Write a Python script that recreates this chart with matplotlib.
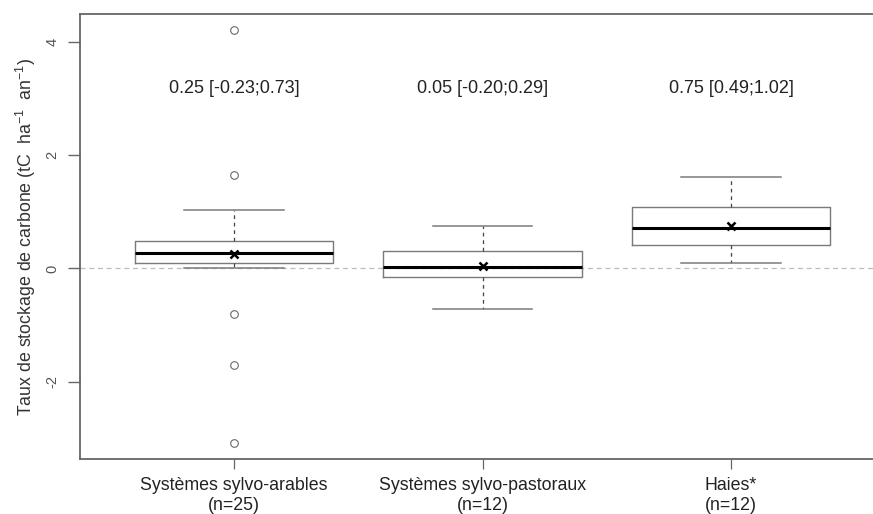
import matplotlib
matplotlib.use("Agg")
import matplotlib.pyplot as plt

plt.rcParams['font.family'] = ['Liberation Sans', 'DejaVu Sans']
plt.rcParams['mathtext.fontset'] = 'custom'
plt.rcParams['mathtext.rm'] = 'Liberation Sans'
plt.rcParams['mathtext.it'] = 'Liberation Sans'

# ---- data ----
categories = ["Systèmes sylvo-arables\n(n=25)",
              "Systèmes sylvo-pastoraux\n(n=12)",
              "Haies*\n(n=12)"]
q1 = [0.10, -0.16, 0.42]
medians = [0.28, 0.03, 0.72]
q3 = [0.48, 0.30, 1.08]
whisk_lo = [0.01, -0.72, 0.09]
whisk_hi = [1.035, 0.75, 1.61]
means = [0.25, 0.05, 0.75]
outliers = [[4.21, 1.66, -0.80, -1.71, -3.09], [], []]
annotations = ["0.25 [-0.23;0.73]", "0.05 [-0.20;0.29]", "0.75 [0.49;1.02]"]
annot_y = 3.19
yticks = [-2, 0, 2, 4]
ylabel = "Taux de stockage de carbone (tC  ha$^{-1}$  an$^{-1}$)"

positions = list(range(1, len(categories) + 1))
stats = []
for i in range(len(categories)):
    stats.append(dict(q1=q1[i], med=medians[i], q3=q3[i],
                      whislo=whisk_lo[i], whishi=whisk_hi[i],
                      mean=means[i], fliers=outliers[i], label=categories[i]))

fig = plt.figure(figsize=(8.73, 5.14), dpi=100)
ax = fig.add_axes([80/873, 55/514, 805/873, 445/514])

grey = '#7a7a7a'
ax.axhline(0, color='#bdbdbd', lw=0.9, ls=(0, (4, 3)), zorder=0)

ax.bxp(stats, positions=positions, widths=0.8, showmeans=True,
       patch_artist=False,
       boxprops=dict(color=grey, linewidth=1.0),
       whiskerprops=dict(color='#444444', linewidth=0.9, linestyle=(0, (3, 3))),
       capprops=dict(color=grey, linewidth=1.1),
       capwidths=0.4,
       medianprops=dict(color='black', linewidth=2.2),
       meanprops=dict(marker='x', markeredgecolor='black', markersize=6,
                      markeredgewidth=1.8),
       flierprops=dict(marker='o', markerfacecolor='none', markeredgecolor='#6a6a6a',
                       markersize=5.5, markeredgewidth=0.8))

for x, txt in zip(positions, annotations):
    ax.text(x, annot_y, txt, ha='center', va='center', fontsize=13, color='#222222')

ax.set_xlim(0.38, 3.62)
ax.set_ylim(-3.37, 4.50)
ax.set_yticks(yticks)
ax.set_yticklabels([str(t) for t in yticks], rotation=90, va='center',
                   fontsize=10.5, color='#555555')
ax.set_xticks(positions)
ax.set_xticklabels(categories, fontsize=12.8, color='#222222', linespacing=1.2)

ax.tick_params(axis='y', length=9, width=1.0, color='#666666', pad=6)
ax.tick_params(axis='x', length=7, width=0.9, color='#666666', pad=6)

for side in ['left', 'bottom', 'top']:
    ax.spines[side].set_color('#666666')
    ax.spines[side].set_linewidth(1.3)
ax.spines['right'].set_visible(False)

ax.set_ylabel(ylabel, fontsize=12.8, color='#333333')
ax.yaxis.set_label_coords(-(80 - 38) / 805, 0.5)

fig.savefig("out.png", dpi=100)
